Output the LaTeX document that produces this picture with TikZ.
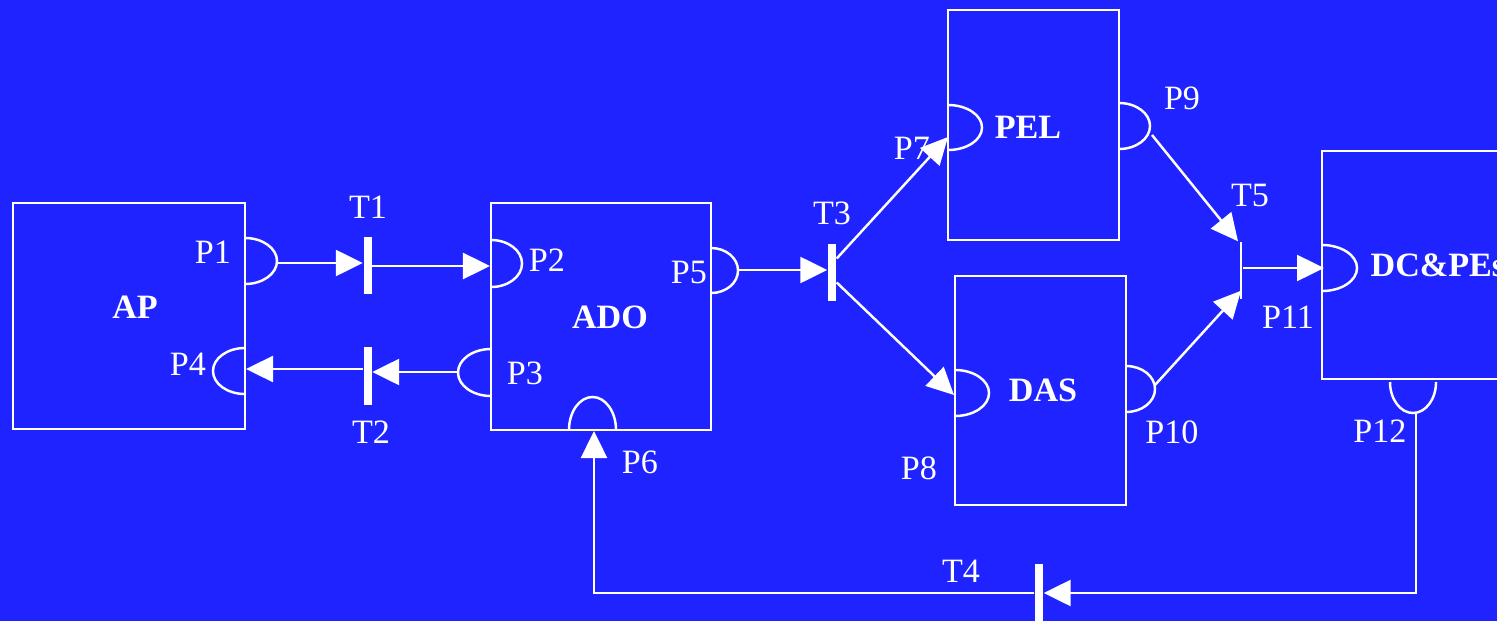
\documentclass[tikz,border=0pt]{standalone}
\usepackage{fontspec}
\setmainfont{Liberation Serif}
\usetikzlibrary{arrows.meta, positioning, calc}
\definecolor{bgblue}{RGB}{31,35,255}

\begin{document}
\begin{tikzpicture}[
  x=0.01cm, y=-0.01cm,
  box/.style={draw=white, line width=0.7pt, inner sep=0},
  blkname/.style={text=white, inner sep=0, font=\bfseries\fontsize{9.7}{11}\selectfont},
  lbl/.style={text=white, inner sep=0, font=\fontsize{9.7}{11}\selectfont},
  bar/.style={fill=white, minimum width=0.8mm, minimum height=5.7mm, inner sep=0},
  thinbar/.style={bar, minimum width=0.25mm},
  port/.style={draw=white, line width=0.7pt},
  flow/.style={-{Triangle[length=2.7mm,width=2.6mm]}, white, line width=0.7pt},
]

\useasboundingbox (0,0) rectangle (1497,621);
\clip (0,0) rectangle (1497,621);
\fill[bgblue] (0,0) rectangle (1497,621);

% ---- blocks ----
\node[box, minimum width=2.32cm, minimum height=2.26cm] (ap)  at (129,316)    {};
\node[box, minimum width=2.20cm, minimum height=2.27cm] (ado) at (601,316.5)  {};
\node[box, minimum width=1.71cm, minimum height=2.30cm] (pel) at (1033.5,125) {};
\node[box, minimum width=1.71cm, minimum height=2.29cm] (das) at (1040.5,390.5) {};
\node[box, minimum width=2.40cm, minimum height=2.28cm] (dc)  at (1442,265)   {};

\node[blkname] (apname)  at (135,307)  {AP};
\node[blkname] (adoname) at (610,317)  {ADO};
\node[blkname] (pelname) at (1028,127) {PEL};
\node[blkname] (dasname) at (1043,390) {DAS};
\node[blkname, anchor=west] (dcname) at (1370,265) {DC\&PEs};

% ---- ports ----
\draw[port] (245,238)  arc[start angle=90,  end angle=-90, x radius=3.2mm,  y radius=2.3mm];  % P1
\draw[port] (245,348)  arc[start angle=90,  end angle=270, x radius=3.2mm,  y radius=2.3mm];  % P4
\draw[port] (491,240)  arc[start angle=90,  end angle=-90, x radius=3.1mm,  y radius=2.35mm]; % P2
\draw[port] (491,349)  arc[start angle=90,  end angle=270, x radius=3.3mm,  y radius=2.35mm]; % P3
\draw[port] (711,248)  arc[start angle=90,  end angle=-90, x radius=2.7mm,  y radius=2.25mm]; % P5
\draw[port] (569,430)  arc[start angle=180, end angle=0,   x radius=2.35mm, y radius=3.3mm];  % P6
\draw[port] (948,105)  arc[start angle=90,  end angle=-90, x radius=3.4mm,  y radius=2.25mm]; % P7
\draw[port] (955,370)  arc[start angle=90,  end angle=-90, x radius=3.4mm,  y radius=2.3mm];  % P8
\draw[port] (1119,103) arc[start angle=90,  end angle=-90, x radius=3.1mm,  y radius=2.3mm];  % P9
\draw[port] (1126,366) arc[start angle=90,  end angle=-90, x radius=2.9mm,  y radius=2.3mm];  % P10
\draw[port] (1322,245) arc[start angle=90,  end angle=-90, x radius=3.5mm,  y radius=2.3mm];  % P11
\draw[port] (1390,382) arc[start angle=180, end angle=360, x radius=2.3mm,  y radius=3.1mm];  % P12

\coordinate (p1o)  at (277,263);
\coordinate (p2i)  at (490,266);
\coordinate (p3o)  at (458,372);
\coordinate (p4i)  at (246,369);
\coordinate (p5o)  at (738,270);
\coordinate (p6i)  at (594,431);
\coordinate (p7i)  at (948,137);
\coordinate (p8i)  at (954,395);
\coordinate (p9o)  at (1152,135);
\coordinate (p10o) at (1155,385);
\coordinate (p11i) at (1324,268);
\coordinate (p12o) at (1416,413);

\node[lbl] (p1l)  at (213,252)  {P1};
\node[lbl] (p2l)  at (547,260)  {P2};
\node[lbl] (p3l)  at (525,373)  {P3};
\node[lbl] (p4l)  at (188,364)  {P4};
\node[lbl] (p5l)  at (689,272)  {P5};
\node[lbl] (p6l)  at (640,462)  {P6};
\node[lbl] (p7l)  at (912,148)  {P7};
\node[lbl] (p8l)  at (919,468)  {P8};
\node[lbl] (p9l)  at (1182,98)  {P9};
\node[lbl] (p10l) at (1172,432) {P10};
\node[lbl] (p11l) at (1288,317) {P11};
\node[lbl] (p12l) at (1380,431) {P12};

% ---- transitions ----
\node[bar]     (t1) at (367.5,265.5) {};
\node[bar]     (t2) at (367.5,376)   {};
\node[bar]     (t3) at (832,272.5)   {};
\node[bar]     (t4) at (1039,593)    {};
\node[thinbar] (t5) at (1241,270.5)  {};

\node[lbl] (t1l) at (368,207)  {T1};
\node[lbl] (t2l) at (371,432)  {T2};
\node[lbl] (t3l) at (832,213)  {T3};
\node[lbl] (t4l) at (961,571)  {T4};
\node[lbl] (t5l) at (1250,195) {T5};

% ---- flows ----
\draw[flow] (p1o) -- (p1o -| t1.west);
\draw[flow] (p2i -| t1.east) -- (p2i);
\draw[flow] (p3o) -- (p3o -| t2.east);
\draw[flow] (p4i -| t2.west) -- (p4i);
\draw[flow] (p5o) -- (p5o -| t3.west);
\draw[flow] ([yshift=1.4mm]t3.east) -- (p7i);
\draw[flow] ([yshift=-1mm]t3.east) -- (p8i);
\draw[flow] (p9o) -- ([xshift=-0.3mm]t5.north);
\draw[flow] (p10o) -- ([yshift=0.9mm]t5.south);
\draw[flow] (p11i -| t5.east) -- (p11i);
\draw[flow] (p12o) |- (t4.east);
\draw[flow] (t4.west) -| (p6i);

\end{tikzpicture}
\end{document}
